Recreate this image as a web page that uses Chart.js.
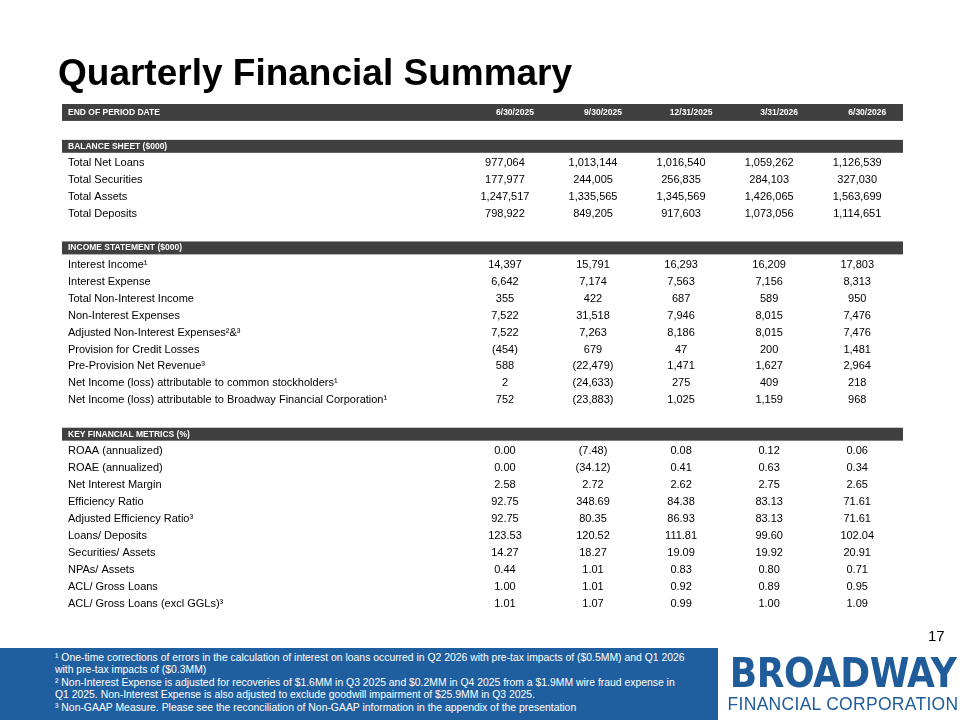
<!DOCTYPE html>
<html><head><meta charset="utf-8">
<script src="https://cdn.jsdelivr.net/npm/chart.js@4"></script>
<style>
body{margin:0;background:#fff;font-family:"Liberation Sans",Arial,sans-serif}
#wrap{position:relative;width:960px;height:720px;overflow:hidden}
#c{position:absolute;left:0;top:0}
h1{position:absolute;left:58px;top:52px;margin:0;font-size:37px;font-weight:bold;color:#000}
#pg{position:absolute;left:928px;top:627px;font-size:15px}
#foot{position:absolute;left:0;top:648px;width:718px;height:72px;background:#1f5fa0;color:#fff;font-size:10.4px;line-height:12.4px;padding:4px 0 0 55px;box-sizing:border-box;white-space:nowrap}
#logo{position:absolute;left:726px;top:652px;width:234px;text-align:center;color:#1f5c99;white-space:nowrap}
#logo .b{font-family:"DejaVu Sans Condensed";font-weight:bold;font-size:40px;letter-spacing:-0.5px;line-height:42px}
#logo .f{font-size:17.5px;letter-spacing:0.3px;line-height:20px}
</style></head><body>
<div id="wrap">
<canvas id="c" width="960" height="720"></canvas>
<h1>Quarterly Financial Summary</h1>
<div id="pg">17</div>
<div id="foot">
¹ One-time corrections of errors in the calculation of interest on loans occurred in Q2 2026 with pre-tax impacts of ($0.5MM) and Q1 2026<br>with pre-tax impacts of ($0.3MM)<br>
² Non-Interest Expense is adjusted for recoveries of $1.6MM in Q3 2025 and $0.2MM in Q4 2025 from a $1.9MM wire fraud expense in<br>Q1 2025. Non-Interest Expense is also adjusted to exclude goodwill impairment of $25.9MM in Q3 2025.<br>
³ Non-GAAP Measure. Please see the reconciliation of Non-GAAP information in the appendix of the presentation
</div>
<div id="logo"><div class="b">BROADWAY</div><div class="f">FINANCIAL CORPORATION</div></div>
</div>
<script>
const periods = ["6/30/2025", "9/30/2025", "12/31/2025", "3/31/2026", "6/30/2026"];

const balanceLabels = ["Total Net Loans", "Total Securities", "Total Assets", "Total Deposits"];
const balanceValues = [
  ["977,064", "1,013,144", "1,016,540", "1,059,262", "1,126,539"],
  ["177,977", "244,005", "256,835", "284,103", "327,030"],
  ["1,247,517", "1,335,565", "1,345,569", "1,426,065", "1,563,699"],
  ["798,922", "849,205", "917,603", "1,073,056", "1,114,651"],
];

const incomeLabels = ["Interest Income¹", "Interest Expense", "Total Non-Interest Income", "Non-Interest Expenses",
  "Adjusted Non-Interest Expenses²&³", "Provision for Credit Losses", "Pre-Provision Net Revenue³",
  "Net Income (loss) attributable to common stockholders¹",
  "Net Income (loss) attributable to Broadway Financial Corporation¹"];
const incomeValues = [
  ["14,397", "15,791", "16,293", "16,209", "17,803"],
  ["6,642", "7,174", "7,563", "7,156", "8,313"],
  ["355", "422", "687", "589", "950"],
  ["7,522", "31,518", "7,946", "8,015", "7,476"],
  ["7,522", "7,263", "8,186", "8,015", "7,476"],
  ["(454)", "679", "47", "200", "1,481"],
  ["588", "(22,479)", "1,471", "1,627", "2,964"],
  ["2", "(24,633)", "275", "409", "218"],
  ["752", "(23,883)", "1,025", "1,159", "968"],
];

const metricLabels = ["ROAA (annualized)", "ROAE (annualized)", "Net Interest Margin", "Efficiency Ratio",
  "Adjusted Efficiency Ratio³", "Loans/ Deposits", "Securities/ Assets", "NPAs/ Assets", "ACL/ Gross Loans",
  "ACL/ Gross Loans (excl GGLs)³"];
const metricValues = [
  ["0.00", "(7.48)", "0.08", "0.12", "0.06"],
  ["0.00", "(34.12)", "0.41", "0.63", "0.34"],
  ["2.58", "2.72", "2.62", "2.75", "2.65"],
  ["92.75", "348.69", "84.38", "83.13", "71.61"],
  ["92.75", "80.35", "86.93", "83.13", "71.61"],
  ["123.53", "120.52", "111.81", "99.60", "102.04"],
  ["14.27", "18.27", "19.09", "19.92", "20.91"],
  ["0.44", "1.01", "0.83", "0.80", "0.71"],
  ["1.00", "1.01", "0.92", "0.89", "0.95"],
  ["1.01", "1.07", "0.99", "1.00", "1.09"],
];

// build row list: header rows, blanks and data rows
const rows = [];
rows.push({ type: "head", label: "END OF PERIOD DATE", vals: periods });
rows.push({ type: "blank" });
rows.push({ type: "section", label: "BALANCE SHEET ($000)" });
balanceLabels.forEach((l, i) => rows.push({ type: "data", label: l, vals: balanceValues[i] }));
rows.push({ type: "blank" });
rows.push({ type: "section", label: "INCOME STATEMENT ($000)" });
incomeLabels.forEach((l, i) => rows.push({ type: "data", label: l, vals: incomeValues[i] }));
rows.push({ type: "blank" });
rows.push({ type: "section", label: "KEY FINANCIAL METRICS (%)" });
metricLabels.forEach((l, i) => rows.push({ type: "data", label: l, vals: metricValues[i] }));

const tablePlugin = {
  id: "table",
  afterDraw(chart) {
    const ctx = chart.ctx, xs = chart.scales.x, ys = chart.scales.y, area = chart.chartArea;
    const rowH = Math.abs(ys.getPixelForValue(1) - ys.getPixelForValue(0));
    ctx.save();
    ctx.textBaseline = "middle";
    rows.forEach((r, i) => {
      const y = ys.getPixelForValue(i);
      if (r.type === "blank") return;
      if (r.type === "head" || r.type === "section") {
        const h = r.type === "head" ? rowH : rowH - 4;
        ctx.fillStyle = "#404040";
        ctx.fillRect(area.left, y - h / 2, area.right - area.left, h);
        ctx.fillStyle = "#fff";
        ctx.font = "bold 8.5px 'Liberation Sans', Arial";
        ctx.textAlign = "left";
        ctx.fillText(r.label, area.left + 6, y);
        if (r.vals) {
          ctx.textAlign = "center";
          r.vals.forEach((v, j) => ctx.fillText(v, xs.getPixelForValue(j) + 10, y));
        }
        return;
      }
      ctx.fillStyle = "#000";
      ctx.font = "11px 'Liberation Sans', Arial";
      ctx.textAlign = "left";
      ctx.fillText(r.label, area.left + 6, y);
      ctx.textAlign = "center";
      r.vals.forEach((v, j) => ctx.fillText(v, xs.getPixelForValue(j), y));
    });
    ctx.restore();
  },
};

new Chart(document.getElementById("c"), {
  type: "scatter",
  data: { datasets: [{ data: [] }] },
  options: {
    responsive: false,
    animation: false,
    events: [],
    layout: { padding: { left: 62, right: 57, top: 104, bottom: 108 } },
    plugins: { legend: { display: false }, tooltip: { enabled: false } },
    scales: {
      x: { type: "linear", min: -5.03, max: 4.52, display: false },
      y: { type: "linear", min: -0.5, max: rows.length - 0.5, reverse: true, display: false },
    },
  },
  plugins: [tablePlugin],
});
</script>
</body></html>
